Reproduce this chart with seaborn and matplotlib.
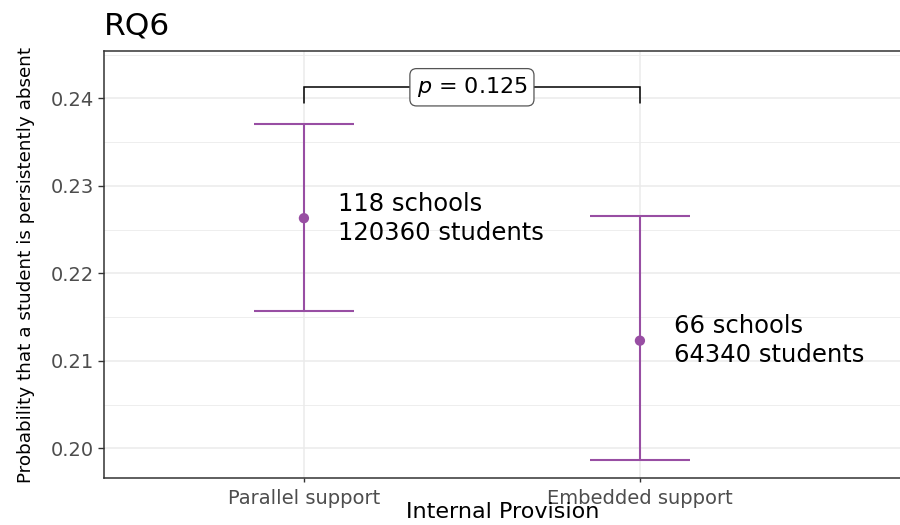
import matplotlib
matplotlib.use("Agg")
import matplotlib.pyplot as plt
from matplotlib.ticker import FixedLocator, MultipleLocator
import pandas as pd
import seaborn as sns

# Model estimates of persistent absence by type of internal provision
provision = ["Parallel support", "Embedded support"]
estimate = [0.2263, 0.2123]
ci_low = [0.2157, 0.1987]
ci_high = [0.2371, 0.2266]
n_schools = [118, 66]
n_students = [120360, 64340]
p_value = 0.125
y_ticks = [0.20, 0.21, 0.22, 0.23, 0.24]

PURPLE = "#984EA3"
GRID = "#EBEBEB"
DARK = "#333333"
TICK_TXT = "#4D4D4D"

df = pd.DataFrame({
    "pos": range(len(provision)),
    "provision": provision,
    "estimate": estimate,
    "lo": ci_low,
    "hi": ci_high,
    "schools": n_schools,
    "students": n_students,
})

sns.set_theme(style="white")
plt.rcParams["font.family"] = ["DejaVu Sans"]
plt.rcParams["mathtext.fontset"] = "dejavusans"

fig = plt.figure(figsize=(9, 5.25), dpi=100)
ax = fig.add_axes([0.11556, 0.08895, 0.88667, 0.81448])

# grid (major + minor, theme_bw style)
ax.set_axisbelow(True)
ax.yaxis.set_major_locator(FixedLocator(y_ticks))
ax.yaxis.set_minor_locator(MultipleLocator(0.005))
ax.grid(True, which="major", color=GRID, linewidth=1.1)
ax.grid(True, which="minor", axis="y", color=GRID, linewidth=0.6)

# confidence intervals
cap = 0.15
ax.vlines(df["pos"], df["lo"], df["hi"], color=PURPLE, linewidth=1.5, zorder=3)
ax.hlines(df["lo"], df["pos"] - cap, df["pos"] + cap, color=PURPLE, linewidth=1.5, zorder=3)
ax.hlines(df["hi"], df["pos"] - cap, df["pos"] + cap, color=PURPLE, linewidth=1.5, zorder=3)

# point estimates
sns.scatterplot(data=df, x="pos", y="estimate", color=PURPLE, s=55,
                edgecolor="none", ax=ax, zorder=4, legend=False)

# sample size labels
for _, r in df.iterrows():
    ax.text(r["pos"] + 0.1, r["estimate"],
            f"{r['schools']} schools\n{r['students']} students",
            ha="left", va="center", fontsize=17.5, linespacing=1.25,
            color="black", zorder=5)

# significance bracket
y_br, y_tip = 0.24126, 0.23943
ax.plot([0, 0, 1, 1], [y_tip, y_br, y_br, y_tip], color="black",
        linewidth=1.1, zorder=5, solid_joinstyle="miter")
ax.text(0.5, y_br, rf"$p$ = {p_value}", ha="center", va="center",
        fontsize=16, color="black", zorder=6,
        bbox=dict(boxstyle="round,pad=0.3,rounding_size=0.3",
                  facecolor="white", edgecolor="#555555", linewidth=0.9))

ax.set_xlim(-0.595, 1.78)
ax.set_ylim(0.19657, 0.24544)
ax.set_xticks(df["pos"])
ax.set_xticklabels(provision)
ax.set_yticklabels([f"{t:.2f}" for t in y_ticks])

ax.tick_params(axis="both", which="major", labelsize=14, labelcolor=TICK_TXT,
               color=DARK, width=1.0)
ax.tick_params(axis="x", which="major", length=3, pad=5, bottom=True)
ax.tick_params(axis="y", which="major", length=4, pad=3.5, left=True)
ax.tick_params(axis="y", which="minor", length=0)

for sp in ax.spines.values():
    sp.set_color(DARK)
    sp.set_linewidth(1.1)

ax.set_xlabel("Internal Provision", fontsize=16, color="black")
ax.xaxis.label.set_va("baseline")
ax.xaxis.set_label_coords(0.5, -0.0928)
ax.set_ylabel("Probability that a student is persistently absent",
              fontsize=13.2, color="black", va="center")
ax.yaxis.set_label_coords(-0.0977, 0.5)

fig.text(0.11556, 0.9347, "RQ6", fontsize=22.5, ha="left", va="baseline",
         color="black")

fig.savefig("out.png", dpi=100)
